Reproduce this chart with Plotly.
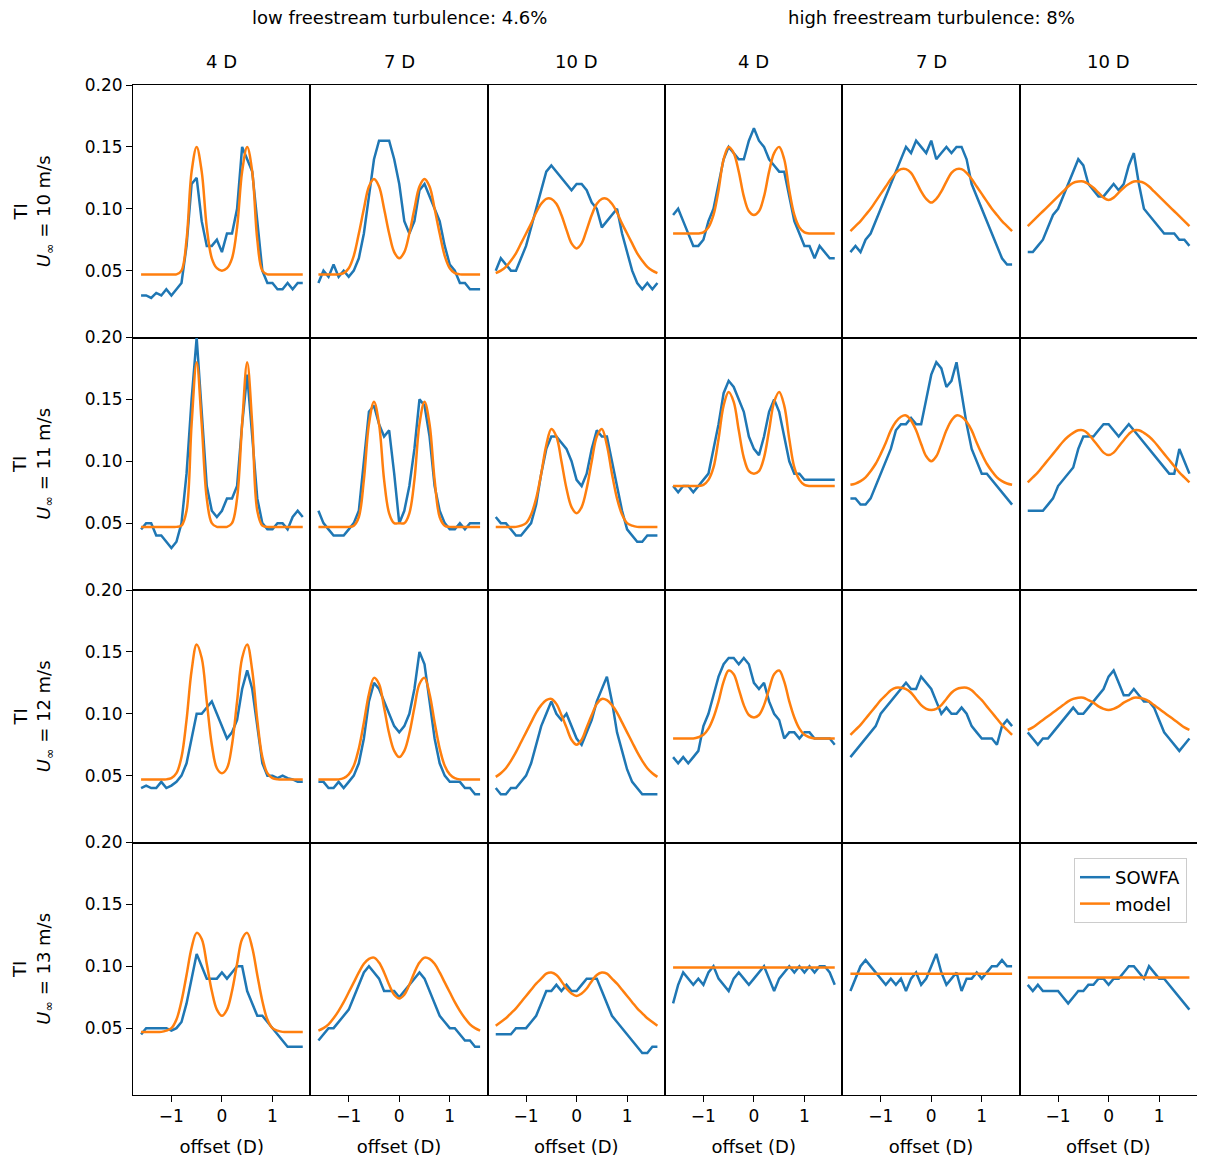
import plotly.graph_objects as go
from plotly.subplots import make_subplots

# offsets (D) at which values were read
X = [-1.6, -1.5, -1.4, -1.3, -1.2, -1.1, -1.0, -0.9, -0.8, -0.7, -0.6,
     -0.5, -0.4, -0.3, -0.2, -0.1, 0.0, 0.1, 0.2, 0.3, 0.4, 0.5,
     0.6, 0.7, 0.8, 0.9, 1.0, 1.1, 1.2, 1.3, 1.4, 1.5, 1.6]

col_titles = ["4 D", "7 D", "10 D", "4 D", "7 D", "10 D"]
group_titles = ["low freestream turbulence: 4.6%", "high freestream turbulence: 8%"]
row_speeds = ["10", "11", "12", "13"]

# ---- SOWFA ----
sowfa = [
    [  # U = 10
        [0.03, 0.03, 0.028, 0.032, 0.03, 0.035, 0.03, 0.035, 0.04, 0.07, 0.12,
         0.125, 0.09, 0.07, 0.07, 0.075, 0.065, 0.08, 0.08, 0.10, 0.15, 0.14,
         0.13, 0.09, 0.05, 0.04, 0.04, 0.035, 0.035, 0.04, 0.035, 0.04, 0.04],
        [0.04, 0.05, 0.045, 0.055, 0.045, 0.05, 0.045, 0.05, 0.06, 0.08, 0.11,
         0.14, 0.155, 0.155, 0.155, 0.14, 0.12, 0.09, 0.08, 0.09, 0.115, 0.12,
         0.11, 0.10, 0.09, 0.07, 0.055, 0.05, 0.04, 0.04, 0.035, 0.035, 0.035],
        [0.05, 0.06, 0.055, 0.05, 0.05, 0.06, 0.07, 0.085, 0.10, 0.115, 0.13,
         0.135, 0.13, 0.125, 0.12, 0.115, 0.12, 0.12, 0.115, 0.105, 0.10, 0.085,
         0.09, 0.095, 0.10, 0.08, 0.065, 0.05, 0.04, 0.035, 0.04, 0.035, 0.04],
        [0.095, 0.10, 0.09, 0.08, 0.07, 0.07, 0.075, 0.09, 0.10, 0.12, 0.14,
         0.15, 0.145, 0.14, 0.14, 0.155, 0.165, 0.155, 0.15, 0.14, 0.135, 0.13,
         0.13, 0.11, 0.09, 0.08, 0.07, 0.07, 0.06, 0.07, 0.065, 0.06, 0.06],
        [0.065, 0.07, 0.065, 0.075, 0.08, 0.09, 0.10, 0.11, 0.12, 0.13, 0.14,
         0.15, 0.145, 0.155, 0.15, 0.145, 0.155, 0.14, 0.145, 0.15, 0.145, 0.15,
         0.15, 0.14, 0.12, 0.11, 0.10, 0.09, 0.08, 0.07, 0.06, 0.055, 0.055],
        [0.065, 0.065, 0.07, 0.075, 0.085, 0.095, 0.10, 0.11, 0.12, 0.13, 0.14,
         0.135, 0.12, 0.115, 0.11, 0.11, 0.115, 0.12, 0.115, 0.12, 0.135, 0.145,
         0.12, 0.10, 0.095, 0.09, 0.085, 0.08, 0.08, 0.08, 0.075, 0.075, 0.07],
    ],
    [  # U = 11
        [0.045, 0.05, 0.05, 0.04, 0.04, 0.035, 0.03, 0.035, 0.05, 0.09, 0.15,
         0.20, 0.14, 0.08, 0.06, 0.055, 0.06, 0.07, 0.07, 0.08, 0.13, 0.17,
         0.12, 0.07, 0.05, 0.045, 0.045, 0.05, 0.05, 0.045, 0.055, 0.06, 0.055],
        [0.06, 0.05, 0.045, 0.04, 0.04, 0.04, 0.045, 0.05, 0.06, 0.10, 0.14,
         0.145, 0.13, 0.12, 0.125, 0.09, 0.05, 0.06, 0.08, 0.11, 0.15, 0.145,
         0.12, 0.08, 0.06, 0.05, 0.045, 0.045, 0.05, 0.045, 0.05, 0.05, 0.05],
        [0.055, 0.05, 0.05, 0.045, 0.04, 0.04, 0.045, 0.05, 0.065, 0.09, 0.11,
         0.12, 0.12, 0.115, 0.11, 0.10, 0.085, 0.08, 0.09, 0.11, 0.125, 0.12,
         0.12, 0.10, 0.08, 0.06, 0.045, 0.04, 0.035, 0.035, 0.04, 0.04, 0.04],
        [0.08, 0.075, 0.08, 0.08, 0.075, 0.08, 0.085, 0.09, 0.11, 0.13, 0.155,
         0.165, 0.16, 0.15, 0.14, 0.12, 0.11, 0.105, 0.12, 0.14, 0.15, 0.14,
         0.12, 0.10, 0.09, 0.09, 0.085, 0.085, 0.085, 0.085, 0.085, 0.085, 0.085],
        [0.07, 0.07, 0.065, 0.065, 0.07, 0.08, 0.09, 0.10, 0.11, 0.125, 0.13,
         0.13, 0.135, 0.13, 0.13, 0.15, 0.17, 0.18, 0.175, 0.16, 0.165, 0.18,
         0.155, 0.13, 0.11, 0.10, 0.09, 0.09, 0.085, 0.08, 0.075, 0.07, 0.065],
        [0.06, 0.06, 0.06, 0.06, 0.065, 0.07, 0.08, 0.085, 0.09, 0.095, 0.11,
         0.12, 0.12, 0.12, 0.125, 0.13, 0.13, 0.125, 0.12, 0.125, 0.13, 0.125,
         0.12, 0.115, 0.11, 0.105, 0.10, 0.095, 0.09, 0.09, 0.11, 0.10, 0.09],
    ],
    [  # U = 12
        [0.04, 0.042, 0.04, 0.04, 0.045, 0.04, 0.042, 0.045, 0.05, 0.06, 0.08,
         0.10, 0.10, 0.105, 0.11, 0.10, 0.09, 0.08, 0.085, 0.095, 0.12, 0.135,
         0.12, 0.09, 0.06, 0.05, 0.05, 0.048, 0.05, 0.048, 0.047, 0.045, 0.045],
        [0.045, 0.045, 0.04, 0.04, 0.045, 0.04, 0.045, 0.05, 0.06, 0.08, 0.11,
         0.125, 0.12, 0.11, 0.10, 0.09, 0.085, 0.09, 0.10, 0.12, 0.15, 0.14,
         0.11, 0.08, 0.06, 0.05, 0.045, 0.045, 0.045, 0.04, 0.04, 0.035, 0.035],
        [0.04, 0.035, 0.035, 0.04, 0.04, 0.045, 0.05, 0.06, 0.075, 0.09, 0.10,
         0.11, 0.10, 0.095, 0.10, 0.09, 0.08, 0.075, 0.085, 0.095, 0.11, 0.12,
         0.13, 0.11, 0.085, 0.07, 0.055, 0.045, 0.04, 0.035, 0.035, 0.035, 0.035],
        [0.065, 0.06, 0.065, 0.06, 0.065, 0.07, 0.09, 0.10, 0.115, 0.13, 0.14,
         0.145, 0.145, 0.14, 0.145, 0.14, 0.125, 0.12, 0.125, 0.11, 0.10, 0.095,
         0.08, 0.085, 0.085, 0.08, 0.085, 0.085, 0.08, 0.08, 0.08, 0.08, 0.075],
        [0.065, 0.07, 0.075, 0.08, 0.085, 0.09, 0.10, 0.105, 0.11, 0.115, 0.12,
         0.125, 0.12, 0.12, 0.13, 0.125, 0.12, 0.11, 0.10, 0.105, 0.10, 0.10,
         0.105, 0.10, 0.09, 0.085, 0.08, 0.08, 0.08, 0.075, 0.09, 0.095, 0.09],
        [0.085, 0.08, 0.075, 0.08, 0.08, 0.085, 0.09, 0.095, 0.10, 0.105, 0.10,
         0.10, 0.105, 0.11, 0.115, 0.12, 0.13, 0.135, 0.125, 0.115, 0.115, 0.12,
         0.115, 0.11, 0.11, 0.105, 0.095, 0.085, 0.08, 0.075, 0.07, 0.075, 0.08],
    ],
    [  # U = 13
        [0.045, 0.05, 0.05, 0.05, 0.05, 0.05, 0.048, 0.05, 0.055, 0.07, 0.09,
         0.11, 0.10, 0.09, 0.09, 0.09, 0.095, 0.09, 0.095, 0.10, 0.10, 0.08,
         0.07, 0.06, 0.06, 0.055, 0.05, 0.045, 0.04, 0.035, 0.035, 0.035, 0.035],
        [0.04, 0.045, 0.05, 0.05, 0.055, 0.06, 0.065, 0.075, 0.085, 0.095, 0.10,
         0.095, 0.09, 0.08, 0.08, 0.08, 0.075, 0.08, 0.085, 0.09, 0.095, 0.09,
         0.08, 0.07, 0.06, 0.055, 0.05, 0.05, 0.045, 0.04, 0.04, 0.035, 0.035],
        [0.045, 0.045, 0.045, 0.045, 0.05, 0.05, 0.05, 0.055, 0.06, 0.07, 0.08,
         0.08, 0.085, 0.08, 0.085, 0.08, 0.08, 0.085, 0.09, 0.09, 0.09, 0.08,
         0.07, 0.06, 0.055, 0.05, 0.045, 0.04, 0.035, 0.03, 0.03, 0.035, 0.035],
        [0.07, 0.085, 0.095, 0.09, 0.085, 0.09, 0.085, 0.095, 0.10, 0.09, 0.085,
         0.08, 0.09, 0.095, 0.09, 0.085, 0.09, 0.095, 0.10, 0.09, 0.08, 0.09,
         0.095, 0.10, 0.095, 0.10, 0.095, 0.10, 0.095, 0.10, 0.10, 0.095, 0.085],
        [0.08, 0.09, 0.10, 0.105, 0.10, 0.095, 0.09, 0.085, 0.09, 0.085, 0.09,
         0.08, 0.09, 0.095, 0.085, 0.09, 0.10, 0.11, 0.095, 0.085, 0.09, 0.095,
         0.08, 0.09, 0.09, 0.095, 0.09, 0.095, 0.10, 0.10, 0.105, 0.10, 0.10],
        [0.085, 0.08, 0.085, 0.08, 0.08, 0.08, 0.08, 0.075, 0.07, 0.075, 0.08,
         0.08, 0.085, 0.085, 0.09, 0.09, 0.085, 0.09, 0.09, 0.095, 0.10, 0.10,
         0.095, 0.09, 0.10, 0.095, 0.09, 0.09, 0.085, 0.08, 0.075, 0.07, 0.065],
    ],
]

# ---- model ----
model = [
    [  # U = 10
        [0.047, 0.047, 0.047, 0.047, 0.047, 0.047, 0.047, 0.047, 0.05, 0.075, 0.13,
         0.15, 0.13, 0.085, 0.06, 0.052, 0.05, 0.052, 0.06, 0.085, 0.13, 0.15,
         0.13, 0.075, 0.05, 0.047, 0.047, 0.047, 0.047, 0.047, 0.047, 0.047, 0.047],
        [0.047, 0.047, 0.047, 0.047, 0.047, 0.048, 0.052, 0.062, 0.08, 0.10, 0.118,
         0.124, 0.118, 0.10, 0.08, 0.065, 0.06, 0.065, 0.08, 0.10, 0.118, 0.124,
         0.118, 0.10, 0.08, 0.062, 0.052, 0.048, 0.047, 0.047, 0.047, 0.047, 0.047],
        [0.048, 0.05, 0.053, 0.058, 0.064, 0.072, 0.08, 0.088, 0.097, 0.104, 0.108,
         0.108, 0.104, 0.095, 0.083, 0.072, 0.068, 0.072, 0.083, 0.095, 0.104, 0.108,
         0.108, 0.104, 0.097, 0.088, 0.08, 0.072, 0.064, 0.058, 0.053, 0.05, 0.048],
        [0.08, 0.08, 0.08, 0.08, 0.08, 0.08, 0.081, 0.085, 0.095, 0.115, 0.14,
         0.15, 0.145, 0.13, 0.11, 0.098, 0.095, 0.098, 0.11, 0.13, 0.145, 0.15,
         0.14, 0.115, 0.095, 0.085, 0.081, 0.08, 0.08, 0.08, 0.08, 0.08, 0.08],
        [0.082, 0.086, 0.09, 0.095, 0.10, 0.106, 0.112, 0.118, 0.124, 0.129, 0.132,
         0.132, 0.129, 0.122, 0.114, 0.108, 0.105, 0.108, 0.114, 0.122, 0.129, 0.132,
         0.132, 0.129, 0.124, 0.118, 0.112, 0.106, 0.10, 0.095, 0.09, 0.086, 0.082],
        [0.086, 0.09, 0.094, 0.098, 0.102, 0.106, 0.11, 0.114, 0.118, 0.121, 0.122,
         0.122, 0.12, 0.117, 0.113, 0.109, 0.107, 0.109, 0.113, 0.117, 0.12, 0.122,
         0.122, 0.121, 0.118, 0.114, 0.11, 0.106, 0.102, 0.098, 0.094, 0.09, 0.086],
    ],
    [  # U = 11
        [0.047, 0.047, 0.047, 0.047, 0.047, 0.047, 0.047, 0.047, 0.048, 0.06, 0.13,
         0.18, 0.13, 0.07, 0.05, 0.047, 0.047, 0.047, 0.05, 0.07, 0.13, 0.18,
         0.13, 0.06, 0.048, 0.047, 0.047, 0.047, 0.047, 0.047, 0.047, 0.047, 0.047],
        [0.047, 0.047, 0.047, 0.047, 0.047, 0.047, 0.047, 0.048, 0.055, 0.085, 0.13,
         0.148, 0.13, 0.085, 0.058, 0.05, 0.05, 0.05, 0.058, 0.085, 0.13, 0.148,
         0.13, 0.085, 0.055, 0.048, 0.047, 0.047, 0.047, 0.047, 0.047, 0.047, 0.047],
        [0.047, 0.047, 0.047, 0.047, 0.047, 0.048, 0.05, 0.057, 0.07, 0.09, 0.113,
         0.126, 0.12, 0.10, 0.078, 0.063, 0.058, 0.063, 0.078, 0.10, 0.12, 0.126,
         0.113, 0.09, 0.07, 0.057, 0.05, 0.048, 0.047, 0.047, 0.047, 0.047, 0.047],
        [0.08, 0.08, 0.08, 0.08, 0.08, 0.08, 0.081, 0.085, 0.095, 0.118, 0.145,
         0.156, 0.148, 0.125, 0.103, 0.092, 0.09, 0.092, 0.103, 0.125, 0.148, 0.156,
         0.145, 0.118, 0.095, 0.085, 0.081, 0.08, 0.08, 0.08, 0.08, 0.08, 0.08],
        [0.081, 0.082, 0.084, 0.087, 0.092, 0.098, 0.106, 0.115, 0.125, 0.132, 0.136,
         0.137, 0.133, 0.125, 0.114, 0.104, 0.10, 0.104, 0.114, 0.125, 0.133, 0.137,
         0.136, 0.132, 0.125, 0.115, 0.106, 0.098, 0.092, 0.087, 0.084, 0.082, 0.081],
        [0.083, 0.087, 0.091, 0.096, 0.101, 0.106, 0.111, 0.116, 0.12, 0.123, 0.125,
         0.125, 0.122, 0.117, 0.112, 0.107, 0.105, 0.107, 0.112, 0.117, 0.122, 0.125,
         0.125, 0.123, 0.12, 0.116, 0.111, 0.106, 0.101, 0.096, 0.091, 0.087, 0.083],
    ],
    [  # U = 12
        [0.047, 0.047, 0.047, 0.047, 0.047, 0.047, 0.048, 0.052, 0.065, 0.095, 0.135,
         0.156, 0.145, 0.11, 0.075, 0.056, 0.052, 0.056, 0.075, 0.11, 0.145, 0.156,
         0.135, 0.095, 0.065, 0.052, 0.048, 0.047, 0.047, 0.047, 0.047, 0.047, 0.047],
        [0.047, 0.047, 0.047, 0.047, 0.047, 0.048, 0.051, 0.058, 0.072, 0.093, 0.116,
         0.129, 0.124, 0.105, 0.084, 0.07, 0.065, 0.07, 0.084, 0.105, 0.124, 0.129,
         0.116, 0.093, 0.072, 0.058, 0.051, 0.048, 0.047, 0.047, 0.047, 0.047, 0.047],
        [0.049, 0.052, 0.056, 0.062, 0.069, 0.077, 0.085, 0.093, 0.101, 0.107, 0.111,
         0.112, 0.108, 0.099, 0.089, 0.079, 0.075, 0.079, 0.089, 0.099, 0.108, 0.112,
         0.111, 0.107, 0.101, 0.093, 0.085, 0.077, 0.069, 0.062, 0.056, 0.052, 0.049],
        [0.08, 0.08, 0.08, 0.08, 0.08, 0.081, 0.083, 0.088, 0.097, 0.11, 0.126,
         0.135, 0.132, 0.12, 0.107, 0.099, 0.097, 0.099, 0.107, 0.12, 0.132, 0.135,
         0.126, 0.11, 0.097, 0.088, 0.083, 0.081, 0.08, 0.08, 0.08, 0.08, 0.08],
        [0.083, 0.087, 0.091, 0.096, 0.101, 0.106, 0.111, 0.115, 0.119, 0.121, 0.121,
         0.12, 0.117, 0.112, 0.107, 0.104, 0.103, 0.104, 0.107, 0.112, 0.117, 0.12,
         0.121, 0.121, 0.119, 0.115, 0.111, 0.106, 0.101, 0.096, 0.091, 0.087, 0.083],
        [0.087, 0.089, 0.092, 0.095, 0.098, 0.101, 0.104, 0.107, 0.11, 0.112, 0.113,
         0.113, 0.111, 0.109, 0.106, 0.104, 0.103, 0.104, 0.106, 0.109, 0.111, 0.113,
         0.113, 0.112, 0.11, 0.107, 0.104, 0.101, 0.098, 0.095, 0.092, 0.089, 0.087],
    ],
    [  # U = 13
        [0.047, 0.047, 0.047, 0.047, 0.047, 0.048, 0.05, 0.057, 0.072, 0.093, 0.115,
         0.127, 0.122, 0.102, 0.08, 0.065, 0.06, 0.065, 0.08, 0.102, 0.122, 0.127,
         0.115, 0.093, 0.072, 0.057, 0.05, 0.048, 0.047, 0.047, 0.047, 0.047, 0.047],
        [0.048, 0.05, 0.053, 0.058, 0.064, 0.071, 0.079, 0.087, 0.095, 0.102, 0.106,
         0.107, 0.103, 0.095, 0.085, 0.077, 0.074, 0.077, 0.085, 0.095, 0.103, 0.107,
         0.106, 0.102, 0.095, 0.087, 0.079, 0.071, 0.064, 0.058, 0.053, 0.05, 0.048],
        [0.052, 0.055, 0.058, 0.062, 0.066, 0.071, 0.076, 0.081, 0.086, 0.09, 0.094,
         0.095, 0.093, 0.088, 0.082, 0.078, 0.076, 0.078, 0.082, 0.088, 0.093, 0.095,
         0.094, 0.09, 0.086, 0.081, 0.076, 0.071, 0.066, 0.062, 0.058, 0.055, 0.052],
        [0.099, 0.099, 0.099, 0.099, 0.099, 0.099, 0.099, 0.099, 0.099, 0.099, 0.099,
         0.099, 0.099, 0.099, 0.099, 0.099, 0.099, 0.099, 0.099, 0.099, 0.099, 0.099,
         0.099, 0.099, 0.099, 0.099, 0.099, 0.099, 0.099, 0.099, 0.099, 0.099, 0.099],
        [0.094, 0.094, 0.094, 0.094, 0.094, 0.094, 0.094, 0.094, 0.094, 0.094, 0.094,
         0.094, 0.094, 0.094, 0.094, 0.094, 0.094, 0.094, 0.094, 0.094, 0.094, 0.094,
         0.094, 0.094, 0.094, 0.094, 0.094, 0.094, 0.094, 0.094, 0.094, 0.094, 0.094],
        [0.091, 0.091, 0.091, 0.091, 0.091, 0.091, 0.091, 0.091, 0.091, 0.091, 0.091,
         0.091, 0.091, 0.091, 0.091, 0.091, 0.091, 0.091, 0.091, 0.091, 0.091, 0.091,
         0.091, 0.091, 0.091, 0.091, 0.091, 0.091, 0.091, 0.091, 0.091, 0.091, 0.091],
    ],
]

BLUE = "#1f77b4"
ORANGE = "#ff7f0e"
FONT = "DejaVu Sans"

fig = make_subplots(rows=4, cols=6, horizontal_spacing=0, vertical_spacing=0)

for r in range(4):
    for c in range(6):
        first = (r == 0 and c == 0)
        fig.add_trace(go.Scatter(x=X, y=sowfa[r][c], mode="lines", name="SOWFA",
                                 line=dict(color=BLUE, width=2.5),
                                 showlegend=first), row=r + 1, col=c + 1)
        fig.add_trace(go.Scatter(x=X, y=model[r][c], mode="lines", name="model",
                                 line=dict(color=ORANGE, width=2.5, shape="spline"),
                                 showlegend=first), row=r + 1, col=c + 1)
        fig.update_xaxes(range=[-1.76, 1.75], tickvals=[-1, 0, 1],
                         ticktext=["\u22121", "0", "1"],
                         showticklabels=(r == 3), ticks="outside" if r == 3 else "",
                         title_text="offset (D)" if r == 3 else None,
                         row=r + 1, col=c + 1)
        fig.update_yaxes(range=[-0.004, 0.2], tickvals=[0.05, 0.10, 0.15, 0.20],
                         ticktext=["0.05", "0.10", "0.15", "0.20"],
                         showticklabels=(c == 0), ticks="outside" if c == 0 else "",
                         row=r + 1, col=c + 1)

fig.update_xaxes(showline=True, mirror=True, linecolor="black", linewidth=1,
                 showgrid=False, zeroline=False, ticklen=6, tickwidth=1.2,
                 tickcolor="black", title_standoff=14,
                 title_font=dict(size=18, family=FONT, color="black"))
fig.update_yaxes(showline=True, mirror=True, linecolor="black", linewidth=1,
                 showgrid=False, zeroline=False, ticklen=6, tickwidth=1.2,
                 tickcolor="black")

W, H = 1189, 1154
ML, MR, MT, MB = 125, 0, 77, 67
W_PLOT = W - ML - MR
H_PLOT = H - MT - MB

ann = []
for c, t in enumerate(col_titles):
    ann.append(dict(text=t, x=(c + 0.5) / 6, y=1, xref="paper", yref="paper",
                    xanchor="center", yanchor="middle",
                    yshift=24, showarrow=False, font=dict(size=18)))
for g, t in enumerate(group_titles):
    ann.append(dict(text=t, x=(g * 3 + 1.5) / 6, y=1, xref="paper", yref="paper",
                    xanchor="center", yanchor="middle",
                    yshift=68, showarrow=False, font=dict(size=18)))
for r, s in enumerate(row_speeds):
    ann.append(dict(text="TI<br><i>U</i><sub>\u221e</sub> = " + s + " m/s",
                    x=0, y=1 - (r + 0.5) / 4, xref="paper", yref="paper",
                    xanchor="center", yanchor="middle",
                    xshift=-100, textangle=-90, showarrow=False,
                    font=dict(size=18)))

fig.update_layout(
    width=W, height=H,
    margin=dict(l=ML, r=MR, t=MT, b=MB),
    plot_bgcolor="white", paper_bgcolor="white",
    font=dict(family=FONT, size=17, color="black"),
    annotations=ann,
    legend=dict(x=1 - 10 / W_PLOT, y=(1095 - 858) / H_PLOT,
                xanchor="right", yanchor="top", bgcolor="white",
                bordercolor="#cccccc", borderwidth=1, font=dict(size=18)),
)

fig.write_html("out.html")
